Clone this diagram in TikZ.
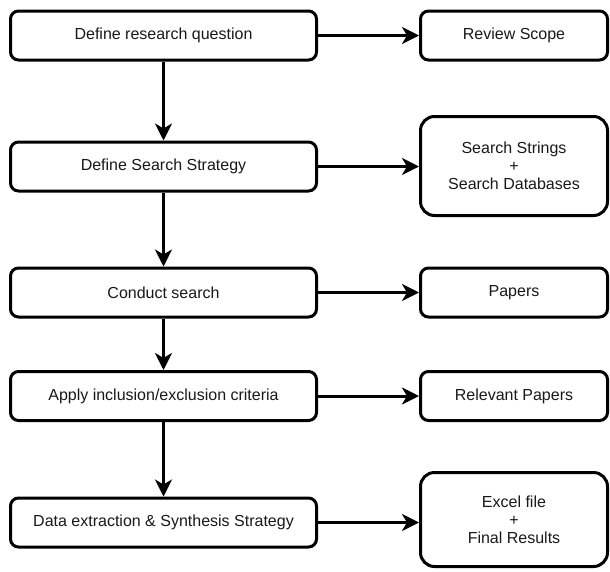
\documentclass[tikz,border=0pt]{standalone}
\usepackage{fontspec}
\setmainfont{Liberation Sans}
\usetikzlibrary{arrows.meta,positioning}
\definecolor{txt}{RGB}{25,25,25}
\tikzset{
  stepbox/.style={draw=black, line width=3pt, rounded corners=8pt, fill=white,
    inner sep=0pt, text=txt, font=\fontsize{16}{18}\selectfont, align=center},
  leftbox/.style={stepbox, minimum width=306pt, minimum height=49pt},
  rightbox/.style={stepbox, minimum width=187pt, minimum height=49pt},
  bigbox/.style={stepbox, minimum width=187pt, rounded corners=14pt},
  flow/.style={line width=3pt, -{Stealth[length=17pt,width=17pt,inset=5pt]}}
}
\begin{document}
\begin{tikzpicture}[x=1pt,y=-1pt]
\useasboundingbox (0,0) rectangle (610,571);
\node[leftbox] (b1) at (163.5,35.5) {Define research question};
\node[leftbox] (b2) at (163.5,166.5) {Define Search Strategy};
\node[leftbox] (b3) at (163.5,292.5) {Conduct search};
\node[leftbox] (b4) at (163.5,396) {Apply inclusion/exclusion criteria};
\node[leftbox] (b5) at (163.5,522.5) {Data extraction \& Synthesis Strategy};
\node[rightbox] (r1) at (514,35.5) {Review Scope};
\node[bigbox, minimum height=99pt] (r2) at (514,166) {Search Strings\\+\\Search Databases};
\node[rightbox] (r3) at (514,292.5) {Papers};
\node[rightbox] (r4) at (514,396) {Relevant Papers};
\node[bigbox, minimum height=94pt] (r5) at (514,519.5) {Excel file\\+\\Final Results};
\draw[flow] (b1) -- (b2);
\draw[flow] (b2) -- (b3);
\draw[flow] (b3) -- (b4);
\draw[flow] (b4) -- (b5);
\draw[flow] (b1.east) -- (b1.east -| r1.west);
\draw[flow] (b2.east) -- (b2.east -| r2.west);
\draw[flow] (b3.east) -- (b3.east -| r3.west);
\draw[flow] (b4.east) -- (b4.east -| r4.west);
\draw[flow] (b5.east) -- (b5.east -| r5.west);
\end{tikzpicture}
\end{document}
